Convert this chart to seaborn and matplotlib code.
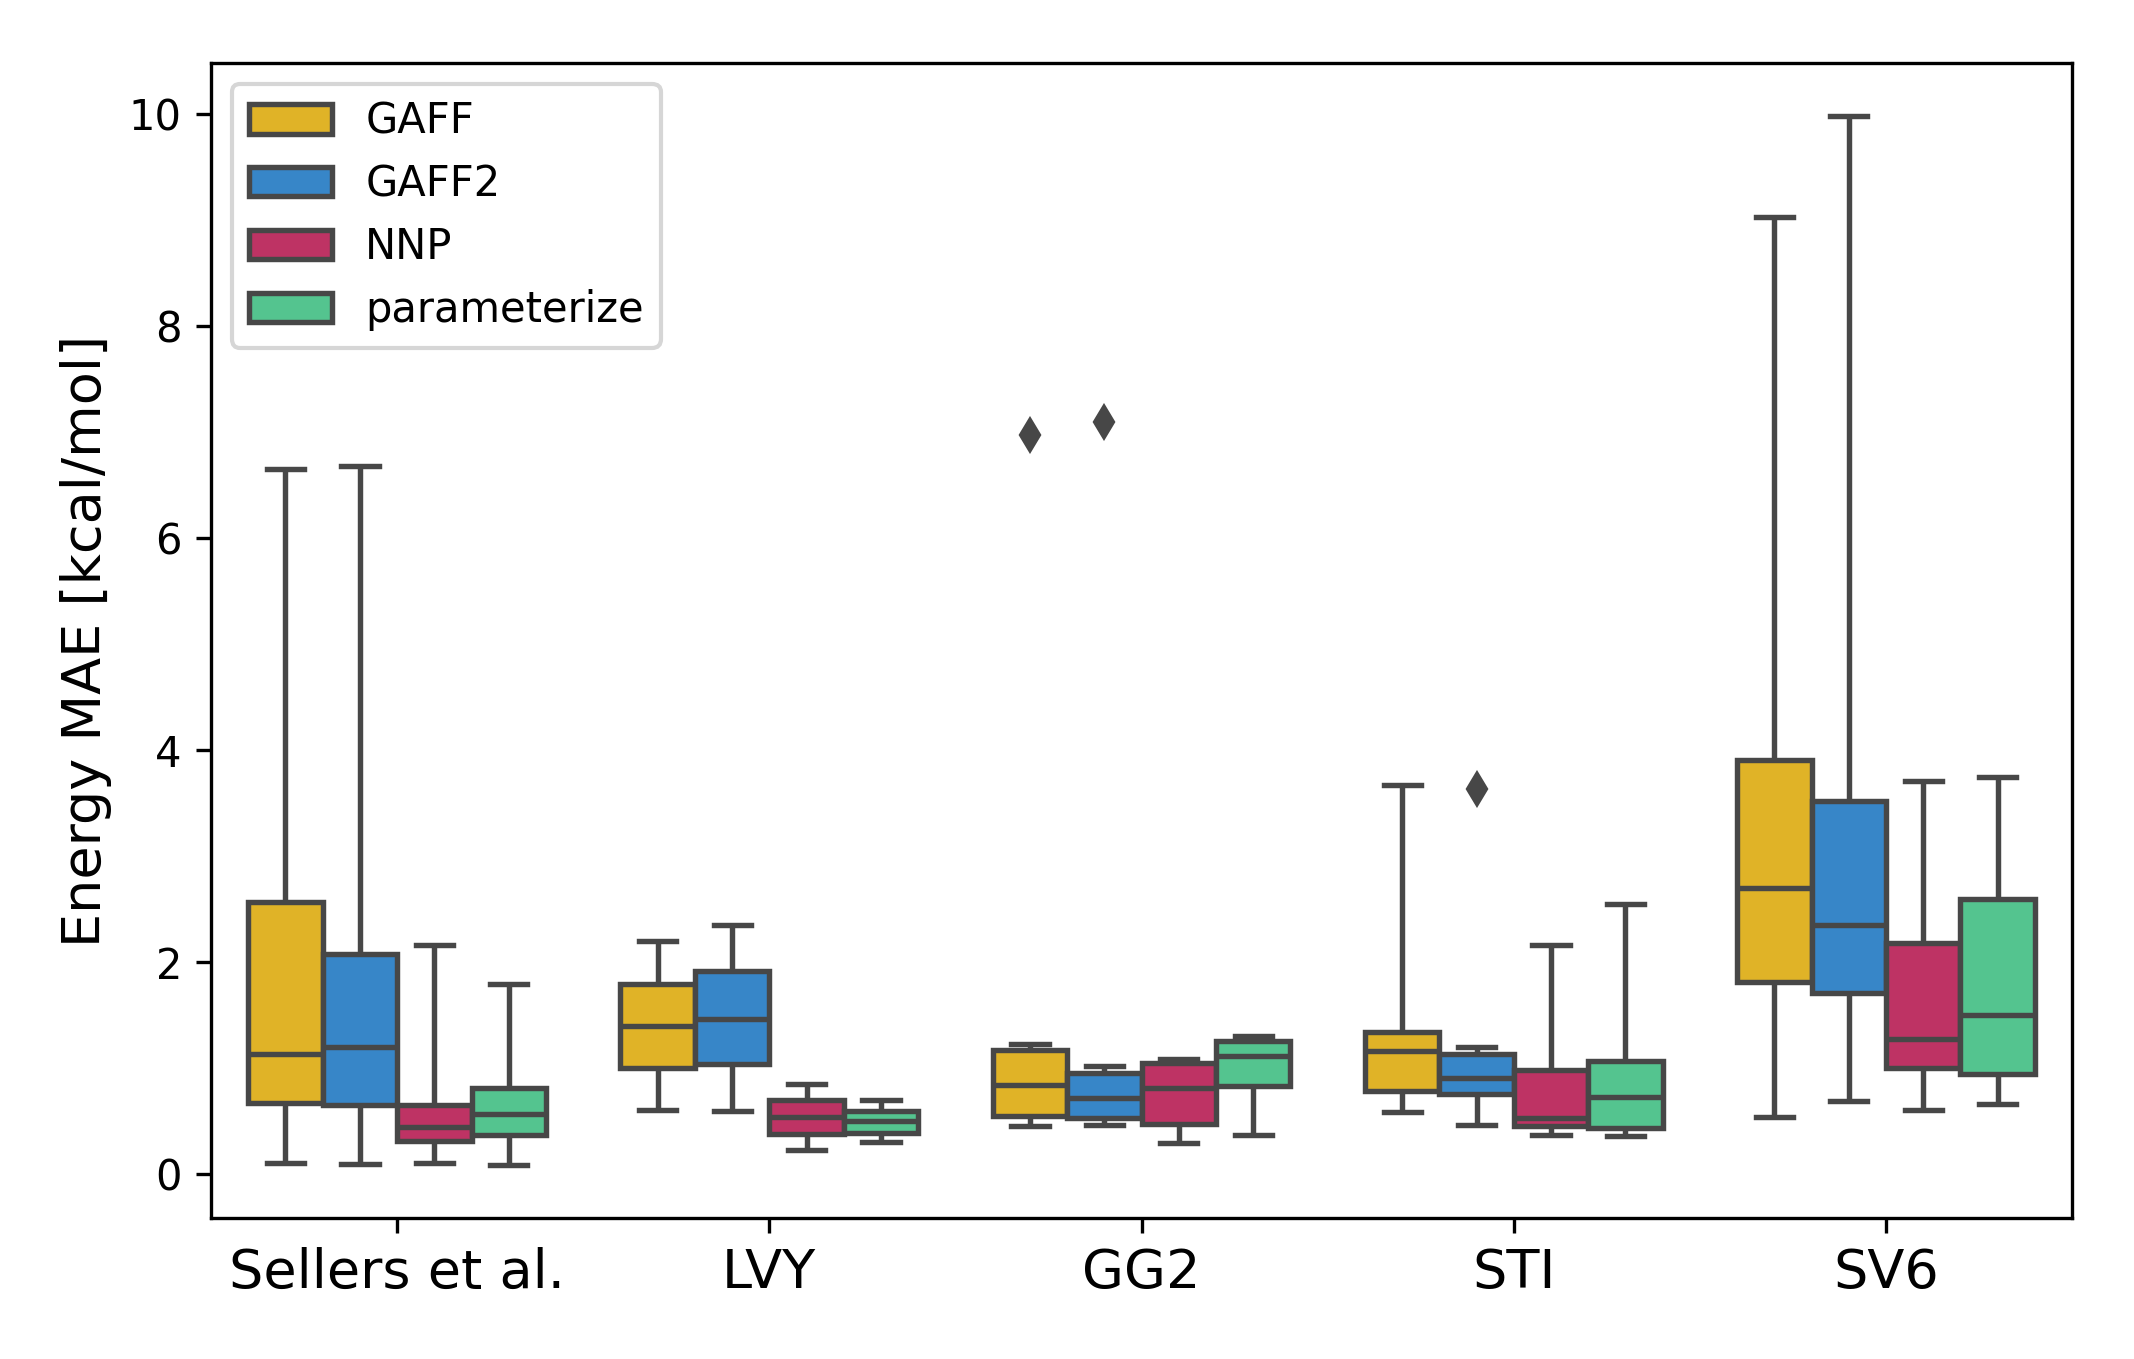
import pandas as pd
import numpy as np
import matplotlib
matplotlib.use('Agg')
import matplotlib.pyplot as plt
import seaborn as sns

datasets = ['Sellers et al.', 'LVY', 'GG2', 'STI', 'SV6']
methods = ['GAFF', 'GAFF2', 'NNP', 'parameterize']
colors = ['#e0b327', '#3786c8', '#be3364', '#54c48f']

# box stats: whisker low, q1, median, q3, whisker high
gaff_lo = [0.11, 0.61, 0.46, 0.59, 0.54]
gaff_q1 = [0.67, 1.00, 0.55, 0.785, 1.82]
gaff_med = [1.14, 1.40, 0.84, 1.16, 2.70]
gaff_q3 = [2.57, 1.80, 1.17, 1.34, 3.91]
gaff_hi = [6.66, 2.20, 1.23, 3.67, 9.03]

gaff2_lo = [0.10, 0.60, 0.47, 0.465, 0.69]
gaff2_q1 = [0.655, 1.04, 0.53, 0.757, 1.71]
gaff2_med = [1.20, 1.47, 0.72, 0.914, 2.35]
gaff2_q3 = [2.08, 1.92, 0.955, 1.14, 3.52]
gaff2_hi = [6.68, 2.35, 1.02, 1.20, 9.99]

nnp_lo = [0.11, 0.23, 0.30, 0.37, 0.61]
nnp_q1 = [0.315, 0.38, 0.48, 0.456, 1.00]
nnp_med = [0.445, 0.54, 0.82, 0.53, 1.28]
nnp_q3 = [0.655, 0.70, 1.05, 0.99, 2.18]
nnp_hi = [2.16, 0.85, 1.09, 2.16, 3.71]

par_lo = [0.085, 0.305, 0.37, 0.36, 0.66]
par_q1 = [0.37, 0.39, 0.83, 0.44, 0.95]
par_med = [0.57, 0.50, 1.12, 0.735, 1.50]
par_q3 = [0.815, 0.60, 1.26, 1.07, 2.60]
par_hi = [1.80, 0.70, 1.31, 2.55, 3.75]

# outliers
flier_method = ['GAFF', 'GAFF2', 'GAFF2']
flier_set = ['GG2', 'GG2', 'STI']
flier_val = [6.98, 7.10, 3.64]

stats = {
    'GAFF': (gaff_lo, gaff_q1, gaff_med, gaff_q3, gaff_hi),
    'GAFF2': (gaff2_lo, gaff2_q1, gaff2_med, gaff2_q3, gaff2_hi),
    'NNP': (nnp_lo, nnp_q1, nnp_med, nnp_q3, nnp_hi),
    'parameterize': (par_lo, par_q1, par_med, par_q3, par_hi),
}

rows = []
for m in methods:
    lo, q1, med, q3, hi = stats[m]
    for i, d in enumerate(datasets):
        # 9 samples -> quartiles land exactly on q1/med/q3
        vals = [lo[i], q1[i], q1[i], med[i], med[i], med[i], q3[i], q3[i], hi[i]]
        for fm, fs, fv in zip(flier_method, flier_set, flier_val):
            if fm == m and fs == d:
                vals = [lo[i], q1[i], q1[i], med[i], med[i], med[i], q3[i], hi[i], fv]
        for v in vals:
            rows.append({'dataset': d, 'method': m, 'mae': v})
df = pd.DataFrame(rows)

gray = '#474747'
fig = plt.figure(figsize=(2134 / 300, 1359 / 300), dpi=300)
ax = fig.add_axes([0.0989, 0.1038, 0.8721, 0.8498])

sns.boxplot(data=df, x='dataset', y='mae', hue='method', order=datasets,
            hue_order=methods, palette=colors, saturation=1, whis=5.5,
            linecolor=gray, linewidth=1.3, ax=ax,
            flierprops=dict(marker='d', markerfacecolor=gray,
                            markeredgecolor=gray, markersize=5))

ax.set_xlabel('')
ax.set_ylabel('Energy MAE [kcal/mol]', fontsize=13)
ax.tick_params(axis='x', labelsize=13)
ax.tick_params(axis='y', labelsize=10)
sns.move_legend(ax, 'upper left', title=None, fontsize=10)

fig.savefig('out.png', dpi=300)
